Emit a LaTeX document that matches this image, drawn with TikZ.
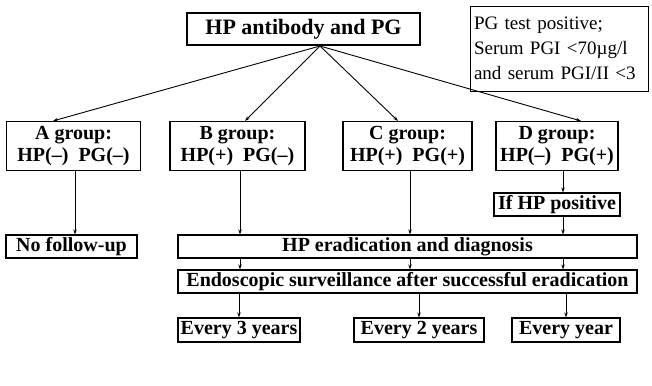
\documentclass[tikz,border=0pt]{standalone}
\usepackage{fontspec}
\setmainfont{Liberation Serif}
\usepackage{tikz}
\usetikzlibrary{arrows.meta}
\usetikzlibrary{calc}

\begin{document}
\begin{tikzpicture}[x=1pt, y=-1pt,
	box/.style={draw, line width=1.1pt, inner sep=0pt, align=center, font=\fontsize{20}{22}\selectfont\bfseries},
	arr/.style={-{Stealth[length=5pt,width=3.5pt]}, line width=0.9pt}]
	\useasboundingbox (0,0) rectangle (652,385);
	% top
	\node[box, minimum width=233pt, minimum height=32pt, font=\fontsize{22}{24}\selectfont\bfseries] (top) at (303.5,29) {HP antibody and PG};
	\node[box, font=\fontsize{19}{25}\selectfont, align=left, text width=170pt, inner xsep=4pt, minimum height=85pt, line width=0.8pt] (note) at (559,48.5) {PG test positive;\\Serum PGI <70\textmu g/l\\and serum PGI/II <3};
	\coordinate (apex) at (320,46);
	% groups
	\node[box, minimum width=134pt, minimum height=49pt] (ga) at (73.5,146) {A group:\\HP(--)~~PG(--)};
	\node[box, minimum width=135pt, minimum height=49pt] (gb) at (237.5,146) {B group:\\HP(+)~~PG(--)};
	\node[box, minimum width=129pt, minimum height=49pt] (gc) at (407.5,146) {C group:\\HP(+)~~PG(+)};
	\node[box, minimum width=122pt, minimum height=49pt] (gd) at (557,146) {D group:\\HP(--)~~PG(+)};
	\node[box, minimum width=126pt, minimum height=23pt] (ifhp) at (557,204.5) {If HP positive};
	% follow-up
	\node[box, minimum width=131pt, minimum height=23pt] (nofu) at (71.5,246.5) {No follow-up};
	\node[box, minimum width=459pt, minimum height=23pt] (erad) at (407.5,246.5) {HP eradication and diagnosis};
	\node[box, minimum width=459pt, minimum height=23pt] (endo) at (407.5,281.5) {Endoscopic surveillance after successful eradication};
	\node[box, minimum width=122pt, minimum height=24pt] (ethree) at (239,330) {Every 3 years};
	\node[box, minimum width=130pt, minimum height=24pt] (etwo) at (419,330) {Every 2 years};
	\node[box, minimum width=108pt, minimum height=24pt] (eone) at (566,330) {Every year};
	% connectors
	\draw[arr] (apex) -- ([xshift=-20.5pt]ga.north);
	\draw[arr] (apex) -- ([xshift=7.5pt]gb.north);
	\draw[arr] (apex) -- ([xshift=-9.5pt]gc.north);
	\draw[arr] (apex) -- ([xshift=24pt]gd.north);
	\draw[arr] ([xshift=1.5pt]ga.south) -- ([xshift=1.5pt]ga.south |- nofu.north);
	\draw[arr] ([xshift=2.5pt]gb.south) -- ([xshift=2.5pt]gb.south |- erad.north);
	\draw[arr] ([xshift=2.5pt]gc.south) -- ([xshift=2.5pt]gc.south |- erad.north);
	\draw[arr] ([xshift=6pt]gd.south) -- ([xshift=6pt]gd.south |- ifhp.north);
	\draw[arr] ([xshift=6pt]ifhp.south) -- ([xshift=6pt]ifhp.south |- erad.north);
	\draw[arr] ([xshift=2.5pt]erad.south -| gb.south) -- ([xshift=2.5pt]endo.north -| gb.south);
	\draw[arr] ([xshift=2.5pt]erad.south -| gc.south) -- ([xshift=2.5pt]endo.north -| gc.south);
	\draw[arr] ([xshift=6pt]erad.south -| gd.south) -- ([xshift=6pt]endo.north -| gd.south);
	\draw[arr] (endo.south -| ethree.north) -- (ethree.north);
	\draw[arr] (endo.south -| etwo.north) -- (etwo.north);
	\draw[arr] (endo.south -| eone.north) -- (eone.north);
\end{tikzpicture}
\end{document}
